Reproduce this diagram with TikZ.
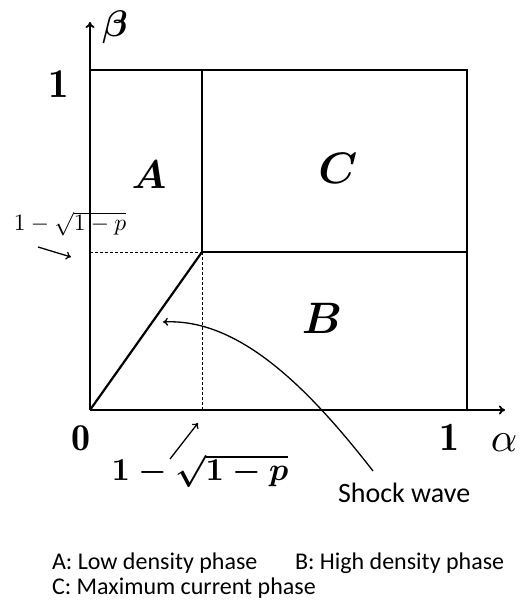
\documentclass[tikz,border=0pt]{standalone}
\usepackage{amsmath}
\usepackage{graphicx}
\usepackage{fontspec}
\newfontfamily\legendfont{Carlito}
\usetikzlibrary{arrows.meta}
\newcommand{\mathlabel}[2]{\scalebox{#1}{$#2$}}
\begin{document}
\begin{tikzpicture}[x=1pt,y=-1pt,
  frameline/.style={line width=2.2pt},
  axisline/.style={line width=1.8pt,-{To[length=6pt,width=9pt]}},
  guideline/.style={line width=0.9pt,dash pattern=on 3pt off 2pt},
  pointer/.style={line width=1.3pt,-{To[length=5pt,width=8pt]}},
  lbl/.style={inner sep=0pt,outer sep=0pt},
  legend/.style={inner sep=0pt,outer sep=0pt,anchor=base west,font=\legendfont\fontsize{24}{27}\selectfont}]
\useasboundingbox (0,0) rectangle (524,609);
% corner coordinates
\coordinate (O) at (90,410);
\coordinate (Ytop) at (90,22);
\coordinate (Xend) at (505,410);
\coordinate (TL) at (90,70);
\coordinate (TM) at (202,70);
\coordinate (TR) at (467,70);
\coordinate (ML) at (90,252);
\coordinate (MM) at (202,252);
\coordinate (MR) at (467,252);
\coordinate (BM) at (202,410);
\coordinate (BR) at (467,410);
% axes
\draw[axisline] (O) -- (Ytop);
\draw[axisline] (O) -- (Xend);
% region borders
\draw[frameline] (TL) -- (TR) -- (BR);
\draw[frameline] (TM) -- (MM) -- (MR);
\draw[frameline] (O) -- (MM);
\draw[guideline] (ML) -- (MM);
\draw[guideline] (MM) -- (BM);
% labels
\node[lbl] (beta) at (115,27) {\mathlabel{3.7}{\boldsymbol{\beta}}};
\node[lbl] (one1) at (59,84) {\mathlabel{4.1}{\mathbf{1}}};
\node[lbl] (A) at (149,175) {\mathlabel{4.0}{\boldsymbol{A}}};
\node[lbl] (C) at (338,168) {\mathlabel{4.4}{\boldsymbol{C}}};
\node[lbl] (B) at (322,318) {\mathlabel{4.4}{\boldsymbol{B}}};
\node[lbl] (zero) at (81,438) {\mathlabel{3.8}{\mathbf{0}}};
\node[lbl] (one2) at (449,437) {\mathlabel{4.0}{\mathbf{1}}};
\node[lbl] (alpha) at (504,443) {\mathlabel{4.1}{\alpha}};
\node[lbl] (pleft) at (70,224) {\mathlabel{2.35}{1-\sqrt{1-p}}};
\node[lbl] (pbot) at (200,471) {\mathlabel{3.2}{\boldsymbol{1-\sqrt{1-p}}}};
\node[lbl,anchor=base west,font=\legendfont\fontsize{28}{31}\selectfont] (shock) at (338,502) {Shock wave};
% pointers
\coordinate (pl0) at (38,247);
\coordinate (pl1) at (71,257);
\draw[pointer] (pl0) -- (pl1);
\coordinate (pb0) at (170,459);
\coordinate (pb1) at (198,423);
\draw[pointer] (pb0) -- (pb1);
\coordinate (s0) at (373,471);
\coordinate (s1) at (163,322);
\draw[pointer] (s0) .. controls (310,390) and (240,318) .. (s1);
% legend
\node[legend] (legA) at (52,569) {A: Low density phase};
\node[legend] (legB) at (295,569) {B: High density phase};
\node[legend] (legC) at (52,594) {C: Maximum current phase};
\end{tikzpicture}
\end{document}
